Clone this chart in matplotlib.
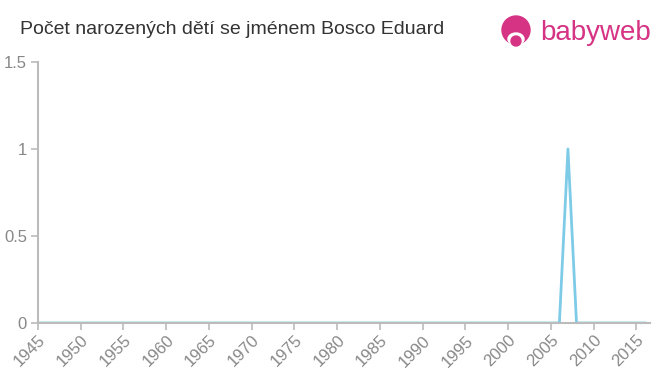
import matplotlib.pyplot as plt
from matplotlib.patches import Circle, Ellipse

# --- Data ---
years = list(range(1945, 2017))
births = [0] * len(years)
births[years.index(2007)] = 1

x_ticks = list(range(1945, 2016, 5))
y_ticks = [0, 0.5, 1, 1.5]
y_tick_labels = ['0', '0.5', '1', '1.5']

title = "Počet narozených dětí se jménem Bosco Eduard"

plt.rcParams['font.family'] = ['Liberation Sans', 'DejaVu Sans']

fig = plt.figure(figsize=(6.6, 3.75), dpi=100)
ax = fig.add_axes([38 / 660, 52 / 375, 612 / 660, 261 / 375])

ax.plot(years, births, color='#7ecbe8', linewidth=2)

ax.set_xlim(1945, 2016.6)
ax.set_ylim(0, 1.5)
ax.set_xticks(x_ticks)
ax.set_xticklabels([str(t) for t in x_ticks], rotation=45, ha='right',
                   rotation_mode='anchor')
ax.set_yticks(y_ticks)
ax.set_yticklabels(y_tick_labels)

for side in ['top', 'right']:
    ax.spines[side].set_visible(False)
for side in ['left', 'bottom']:
    ax.spines[side].set_color('#bbbbbb')
    ax.spines[side].set_linewidth(1.5)
ax.tick_params(axis='both', colors='#bbbbbb', labelcolor='#888888',
               labelsize=12, length=5, width=1.2)
ax.tick_params(axis='y', pad=3)
ax.tick_params(axis='x', pad=2)

fig.text(20 / 660, 1 - 30 / 375, title, fontsize=14, color='#333333',
         va='center', ha='left')

# babyweb logo
pink = '#d63384'
logo = fig.add_axes([500 / 660, 1 - 50 / 375, 32 / 660, 36 / 375])
logo.set_xlim(0, 32)
logo.set_ylim(0, 36)
logo.set_aspect('equal')
logo.axis('off')
logo.add_patch(Circle((16, 20), 14, color=pink))
logo.add_patch(Ellipse((16, 11), 16, 12, color='white'))
logo.add_patch(Circle((16, 9), 5, color=pink))
fig.text(540 / 660, 1 - 33 / 375, 'babyweb', fontsize=20, color=pink,
         va='center', ha='left')

fig.savefig('out.png', dpi=100)
